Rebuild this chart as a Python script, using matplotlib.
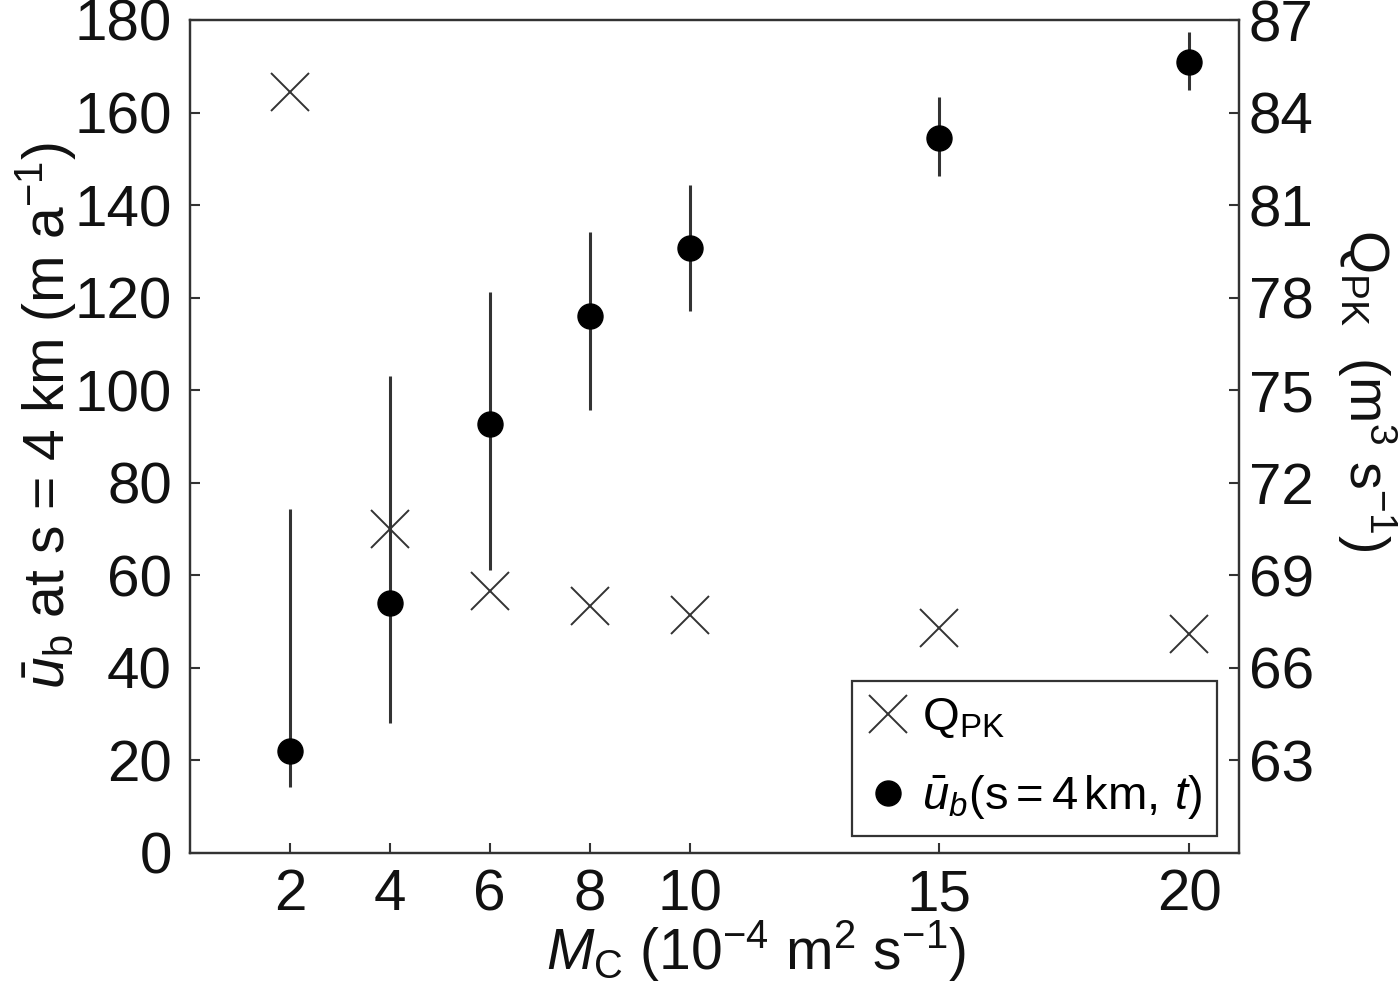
import matplotlib
matplotlib.use("Agg")
import matplotlib.pyplot as plt
import numpy as np

plt.rcParams['font.family'] = ['Liberation Sans', 'DejaVu Sans']
plt.rcParams['mathtext.fontset'] = 'custom'
plt.rcParams['mathtext.rm'] = 'Liberation Sans'
plt.rcParams['mathtext.it'] = 'Liberation Sans:italic'
plt.rcParams['mathtext.bf'] = 'Liberation Sans:bold'

# Data
mc = [2, 4, 6, 8, 10, 15, 20]
ub = [22.0, 54.0, 92.7, 116.0, 130.7, 154.5, 170.9]
ub_low = [14.3, 28.1, 61.1, 95.7, 117.1, 146.3, 164.9]
ub_high = [74.3, 103.0, 121.2, 134.2, 144.3, 163.3, 177.4]
qpk = [84.67, 70.5, 68.5, 68.0, 67.7, 67.3, 67.1]

xticks = [2, 4, 6, 8, 10, 15, 20]
yticks_left = list(range(0, 181, 20))
yticks_right = list(range(63, 88, 3))

edge = '#333333'
txt = '#111111'

fig = plt.figure(figsize=(14, 9.89), dpi=100)
ax = fig.add_axes([190/1400, 1-853/989, (1239-190)/1400, (853-20)/989])
ax2 = ax.twinx()

yerr = [np.array(ub) - np.array(ub_low), np.array(ub_high) - np.array(ub)]
eb = ax.errorbar(mc, ub, yerr=yerr, fmt='o', color='black', ms=18,
                 ecolor=edge, elinewidth=2.2, capsize=0, zorder=3)
cross, = ax2.plot(mc, qpk, linestyle='none', marker='x', ms=27, mew=1.4,
                  color=edge, zorder=3)

ax.set_xlim(0, 21)
ax.set_ylim(0, 180)
ax2.set_ylim(60, 87)
ax.set_xticks(xticks)
ax.set_yticks(yticks_left)
ax2.set_yticks(yticks_right)

for a in (ax, ax2):
    for s in a.spines.values():
        s.set_linewidth(1.6)
        s.set_color(edge)
ax.tick_params(axis='both', direction='in', length=7, width=1.5, color=edge,
               labelsize=42, labelcolor=txt)
ax.tick_params(axis='y', pad=13)
ax.tick_params(axis='x', pad=11)
ax2.tick_params(axis='y', direction='in', length=7, width=1.5, color=edge,
                labelsize=42, labelcolor=txt, pad=7)

ax.set_xlabel(r'$M_\mathrm{C}$ (10$^{-4}$ m$^{2}$ s$^{-1}$)', fontsize=41, color=txt)
ax.xaxis.set_label_coords(0.54, -0.078)
ax.set_ylabel(r'$\bar{u}_\mathrm{b}$ at s = 4 km (m a$^{-1}$)', fontsize=41, color=txt)
ax.yaxis.set_label_coords(-0.107, 0.525)
ax2.set_ylabel(r'Q$_\mathrm{PK}$  (m$^{3}$ s$^{-1}$)', fontsize=40, color=txt, rotation=270)
ax2.yaxis.set_label_coords(1.152, 0.555)

leg = ax2.legend([cross, eb[0]],
                 [r'Q$_\mathrm{PK}$', r'$\bar{u}_b(\mathrm{s} = 4\,\mathrm{km},\, t)$'],
                 loc='lower right', bbox_to_anchor=(0.979, 0.02),
                 fontsize=34, frameon=True, fancybox=False, framealpha=1,
                 edgecolor=edge, borderpad=0.32, handletextpad=0.25,
                 handlelength=0.9, labelspacing=0.7, borderaxespad=0)
leg.get_frame().set_linewidth(1.6)

fig.savefig('out.png', dpi=100, facecolor='white')
